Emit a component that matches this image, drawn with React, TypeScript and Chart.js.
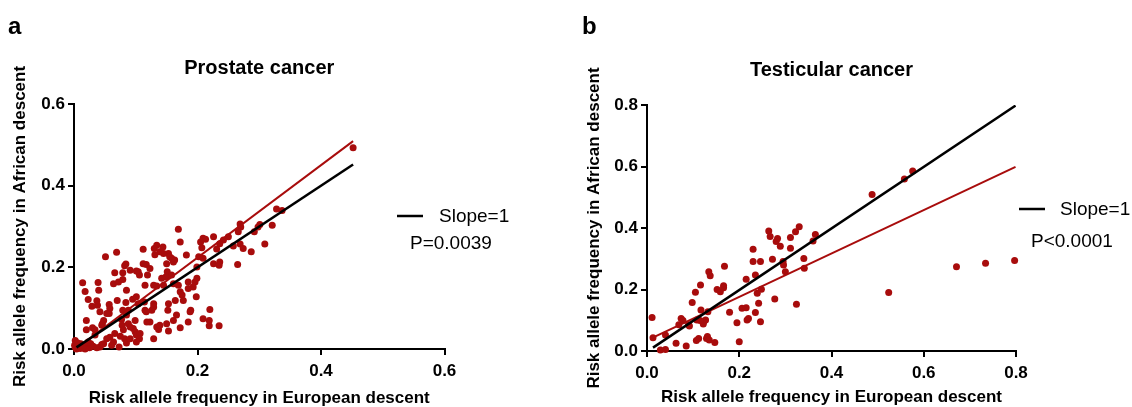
import React, { useEffect, useRef } from 'react';
import { Chart, registerables } from 'chart.js';

Chart.register(...registerables);

// ---------- Data ----------
const prostateEUR = [
  0.452, 0.328, 0.337, 0.321, 0.301, 0.298, 0.309, 0.287, 0.292, 0.269, 0.270, 0.266, 0.269, 0.274, 0.258, 0.265,
  0.250, 0.242, 0.236, 0.231, 0.226, 0.209, 0.213, 0.205, 0.207, 0.209, 0.226, 0.236, 0.235, 0.202, 0.199, 0.199,
  0.196, 0.198, 0.193, 0.185, 0.185, 0.182, 0.172, 0.169, 0.163, 0.161, 0.158, 0.153, 0.155, 0.150, 0.151, 0.149,
  0.158, 0.161, 0.169, 0.172, 0.175, 0.177, 0.164, 0.153, 0.152, 0.166, 0.161, 0.172, 0.185, 0.188, 0.189, 0.209,
  0.219, 0.220, 0.219, 0.235, 0.145, 0.142, 0.145, 0.139, 0.134, 0.130, 0.144, 0.112, 0.117, 0.119, 0.129, 0.134,
  0.129, 0.126, 0.129, 0.134, 0.137, 0.139, 0.150, 0.153, 0.129, 0.123, 0.115, 0.117, 0.104, 0.106, 0.101, 0.091,
  0.082, 0.069, 0.051, 0.066, 0.064, 0.072, 0.079, 0.085, 0.095, 0.101, 0.104, 0.114, 0.088, 0.079, 0.070, 0.057,
  0.058, 0.057, 0.053, 0.048, 0.046, 0.039, 0.040, 0.037, 0.038, 0.023, 0.029, 0.018, 0.014, 0.020, 0.020, 0.030,
  0.034, 0.042, 0.045, 0.077, 0.078, 0.088, 0.091, 0.096, 0.099, 0.101, 0.107, 0.106, 0.082, 0.085, 0.066, 0.058,
  0.064, 0.053, 0.048, 0.042, 0.045, 0.075, 0.073, 0.061, 0.034, 0.080, 0.101, 0.091, 0.002, 0.003, 0.007, 0.010,
  0.012, 0.016, 0.021, 0.025, 0.027, 0.031, 0.004, 0.018, 0.001, 0.023, 0.011, 0.037, 0.084, 0.079, 0.115, 0.123,
  0.112, 0.131, 0.118, 0.099, 0.085, 0.084, 0.002, 0.006, 0.014,
];
const prostateAFR = [
  0.493, 0.343, 0.339, 0.303, 0.305, 0.299, 0.257, 0.238, 0.287, 0.306, 0.299, 0.287, 0.257, 0.246, 0.252, 0.207,
  0.275, 0.267, 0.258, 0.245, 0.275, 0.271, 0.269, 0.262, 0.248, 0.222, 0.209, 0.213, 0.205, 0.226, 0.201, 0.173,
  0.164, 0.128, 0.152, 0.148, 0.164, 0.230, 0.262, 0.293, 0.218, 0.213, 0.222, 0.234, 0.226, 0.209, 0.189, 0.177,
  0.181, 0.160, 0.156, 0.140, 0.132, 0.119, 0.119, 0.111, 0.095, 0.083, 0.070, 0.052, 0.066, 0.091, 0.095, 0.074,
  0.070, 0.097, 0.057, 0.057, 0.156, 0.173, 0.234, 0.238, 0.254, 0.246, 0.250, 0.244, 0.207, 0.181, 0.156, 0.154,
  0.111, 0.095, 0.103, 0.054, 0.048, 0.058, 0.062, 0.044, 0.025, 0.066, 0.095, 0.091, 0.189, 0.181, 0.191, 0.193,
  0.204, 0.237, 0.226, 0.187, 0.160, 0.164, 0.170, 0.144, 0.122, 0.128, 0.111, 0.115, 0.095, 0.095, 0.119, 0.109,
  0.099, 0.087, 0.087, 0.070, 0.062, 0.163, 0.144, 0.118, 0.107, 0.121, 0.105, 0.141, 0.162, 0.070, 0.047, 0.052,
  0.047, 0.091, 0.058, 0.072, 0.058, 0.062, 0.054, 0.050, 0.042, 0.034, 0.038, 0.025, 0.025, 0.015, 0.038, 0.029,
  0.017, 0.025, 0.013, 0.005, 0.011, 0.031, 0.005, 0.009, 0.034, 0.047, 0.017, 0.025, 0.021, 0.013, 0.005, 0.001,
  0.009, 0.005, 0.009, 0.003, 0.013, 0.007, 0.000, 0.000, 0.009, 0.017, 0.013, 0.003, 0.208, 0.187, 0.156, 0.197,
  0.209, 0.231, 0.066, 0.070, 0.083, 0.114, 0.004, 0.015, 0.003,
];
const prostateFitX = [0.004, 0.452];
const prostateFitY = [0.002, 0.509];
const prostateRefX = [0.004, 0.452];
const prostateRefY = [0.004, 0.452];

const testicularEUR = [
  0.011, 0.013, 0.029, 0.040, 0.040, 0.063, 0.069, 0.074, 0.078, 0.085, 0.090, 0.092, 0.098, 0.105, 0.107, 0.108,
  0.116, 0.117, 0.112, 0.123, 0.127, 0.129, 0.131, 0.134, 0.137, 0.132, 0.135, 0.147, 0.152, 0.159, 0.166, 0.166,
  0.168, 0.179, 0.195, 0.200, 0.206, 0.215, 0.215, 0.217, 0.220, 0.230, 0.230, 0.235, 0.239, 0.235, 0.242, 0.246,
  0.246, 0.248, 0.264, 0.267, 0.272, 0.277, 0.280, 0.283, 0.289, 0.295, 0.296, 0.300, 0.311, 0.311, 0.322, 0.324,
  0.330, 0.340, 0.341, 0.360, 0.365, 0.488, 0.558, 0.576, 0.524, 0.671, 0.734, 0.797, 0.122, 0.115,
];
const testicularAFR = [
  0.109, 0.043, 0.003, 0.005, 0.052, 0.025, 0.085, 0.106, 0.099, 0.016, 0.085, 0.081, 0.158, 0.191, 0.034, 0.101,
  0.215, 0.133, 0.041, 0.095, 0.101, 0.041, 0.047, 0.258, 0.245, 0.128, 0.036, 0.028, 0.200, 0.193, 0.212, 0.206,
  0.276, 0.126, 0.092, 0.030, 0.139, 0.141, 0.233, 0.101, 0.106, 0.331, 0.291, 0.247, 0.188, 0.125, 0.155, 0.291,
  0.095, 0.201, 0.390, 0.372, 0.298, 0.169, 0.356, 0.366, 0.341, 0.291, 0.280, 0.258, 0.369, 0.334, 0.388, 0.152,
  0.404, 0.301, 0.269, 0.358, 0.379, 0.509, 0.559, 0.585, 0.190, 0.274, 0.285, 0.294, 0.088, 0.099,
];
const testicularFitX = [0.009, 0.799];
const testicularFitY = [0.041, 0.599];
const testicularRefX = [0.013, 0.799];
const testicularRefY = [0.011, 0.798];

const prostateTicks = [0, 0.2, 0.4, 0.6];
const testicularTicks = [0, 0.2, 0.4, 0.6, 0.8];

const RED = '#A80C0C';
const FONT = '"Liberation Sans", Arial, Helvetica, sans-serif';

type PanelProps = {
  left: number;
  width: number;
  label: string;
  labelX: number;
  title: string;
  titlePadTop: number;
  titlePadBottom: number;
  yScaleWidth: number;
  xScaleHeight: number;
  padRight: number;
  yTitlePad: number;
  xTitlePad: number;
  xs: number[];
  ys: number[];
  fitX: number[];
  fitY: number[];
  refX: number[];
  refY: number[];
  ticks: number[];
  pText: string;
  legend: { x1: number; x2: number; y: number; tx: number; px: number; py: number };
};

const annotPlugin = {
  id: 'annot',
  afterDraw(chart: any, _args: any, opts: any) {
    const ctx = chart.ctx as CanvasRenderingContext2D;
    ctx.save();
    ctx.fillStyle = '#000';
    ctx.font = `bold 24px ${FONT}`;
    ctx.textBaseline = 'alphabetic';
    ctx.textAlign = 'left';
    ctx.fillText(opts.label, opts.labelX, opts.labelY);
    ctx.strokeStyle = '#000';
    ctx.lineWidth = 2.5;
    ctx.beginPath();
    ctx.moveTo(opts.legend.x1, opts.legend.y);
    ctx.lineTo(opts.legend.x2, opts.legend.y);
    ctx.stroke();
    ctx.font = `19px ${FONT}`;
    ctx.textBaseline = 'middle';
    ctx.fillText('Slope=1', opts.legend.tx, opts.legend.y + 1);
    ctx.fillText(opts.pText, opts.legend.px, opts.legend.py);
    ctx.restore();
  },
};

function Panel(p: PanelProps) {
  const ref = useRef<HTMLCanvasElement | null>(null);
  useEffect(() => {
    if (!ref.current) return;
    const pts = p.xs.map((x, i) => ({ x, y: p.ys[i] }));
    const fit = p.fitX.map((x, i) => ({ x, y: p.fitY[i] }));
    const refl = p.refX.map((x, i) => ({ x, y: p.refY[i] }));
    const tmin = p.ticks[0];
    const tmax = p.ticks[p.ticks.length - 1];
    const scaleCommon = (title: string, pad: any, isX: boolean) => ({
      type: 'linear' as const,
      min: tmin,
      max: tmax,
      afterFit: (s: any) => {
        if (isX) s.height = p.xScaleHeight;
        else s.width = p.yScaleWidth;
      },
      afterBuildTicks: (s: any) => {
        s.ticks = p.ticks.map((v) => ({ value: v }));
      },
      ticks: {
        color: '#000',
        font: { family: FONT, size: 17, weight: 'bold' as const },
        padding: isX ? 6 : 3,
        callback: (v: any) => Number(v).toFixed(1),
      },
      grid: {
        display: true,
        drawOnChartArea: false,
        drawTicks: true,
        tickLength: 6,
        color: '#000',
        lineWidth: 2,
      },
      border: { display: true, color: '#000', width: 2 },
      title: {
        display: true,
        text: title,
        color: '#000',
        font: { family: FONT, size: 17, weight: 'bold' as const, lineHeight: 1 },
        padding: pad,
      },
    });
    const chart = new Chart(ref.current, {
      type: 'scatter',
      data: {
        datasets: [
          {
            data: refl,
            showLine: true,
            borderColor: '#000',
            borderWidth: 2.5,
            pointRadius: 0,
            order: 1,
          } as any,
          {
            data: fit,
            showLine: true,
            borderColor: RED,
            borderWidth: 2,
            pointRadius: 0,
            order: 2,
          } as any,
          {
            data: pts,
            backgroundColor: RED,
            borderWidth: 0,
            pointRadius: 3.5,
            clip: false,
            order: 3,
          } as any,
        ],
      },
      options: {
        responsive: false,
        animation: false,
        layout: { padding: { left: 0, top: 0, right: p.padRight, bottom: 0 } },
        scales: {
          x: scaleCommon('Risk allele frequency in European descent', { top: 0, bottom: p.xTitlePad }, true),
          y: scaleCommon('Risk allele frequency in African descent', { top: p.yTitlePad, bottom: 0 }, false),
        },
        plugins: {
          legend: { display: false },
          tooltip: { enabled: false },
          title: {
            display: true,
            text: p.title,
            fullSize: false,
            color: '#000',
            font: { family: FONT, size: 20, weight: 'bold', lineHeight: 1.2 },
            padding: { top: p.titlePadTop, bottom: p.titlePadBottom },
          },
          annot: {
            label: p.label,
            labelX: p.labelX,
            labelY: 34,
            legend: p.legend,
            pText: p.pText,
          },
        } as any,
      },
      plugins: [annotPlugin],
    });
    return () => chart.destroy();
  }, []);
  return (
    <canvas
      ref={ref}
      width={p.width}
      height={407}
      style={{ position: 'absolute', left: p.left, top: 0, width: p.width, height: 407 }}
    />
  );
}

export default function App() {
  return (
    <div style={{ position: 'absolute', left: 0, top: 0, width: 1132, height: 407, background: '#fff', overflow: 'hidden' }}>
      <Panel
        left={0}
        width={566}
        label="a"
        labelX={8}
        title="Prostate cancer"
        titlePadTop={56}
        titlePadBottom={24}
        yScaleWidth={74}
        xScaleHeight={58}
        padRight={121.5}
        yTitlePad={12}
        xTitlePad={0}
        xs={prostateEUR}
        ys={prostateAFR}
        fitX={prostateFitX}
        fitY={prostateFitY}
        refX={prostateRefX}
        refY={prostateRefY}
        ticks={prostateTicks}
        pText="P=0.0039"
        legend={{ x1: 397, x2: 423, y: 216, tx: 439, px: 410, py: 244 }}
      />
      <Panel
        left={566}
        width={566}
        label="b"
        labelX={16}
        title="Testicular cancer"
        titlePadTop={58}
        titlePadBottom={23}
        yScaleWidth={81}
        xScaleHeight={56}
        padRight={116}
        yTitlePad={20}
        xTitlePad={1}
        xs={testicularEUR}
        ys={testicularAFR}
        fitX={testicularFitX}
        fitY={testicularFitY}
        refX={testicularRefX}
        refY={testicularRefY}
        ticks={testicularTicks}
        pText="P<0.0001"
        legend={{ x1: 453, x2: 479, y: 209, tx: 494, px: 465, py: 242 }}
      />
    </div>
  );
}
